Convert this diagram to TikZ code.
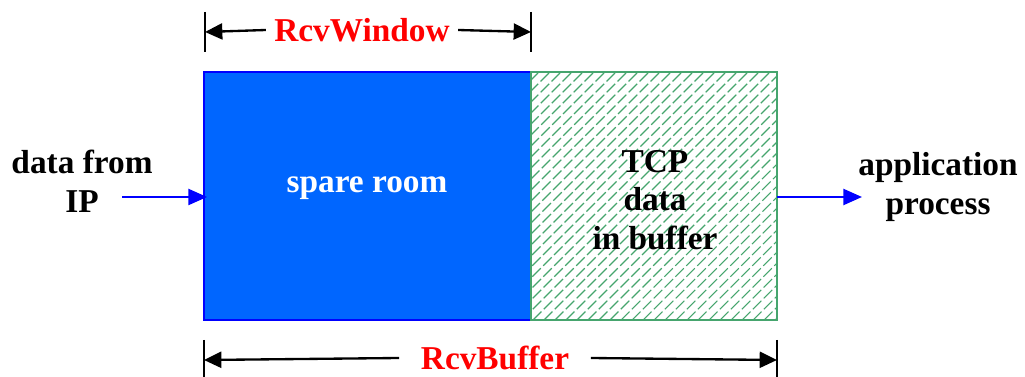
\documentclass[tikz,border=0pt]{standalone}
\usepackage{fontspec}
\setmainfont{Liberation Serif}
\usetikzlibrary{arrows.meta}
\definecolor{roomblue}{RGB}{0,102,255}
\definecolor{hatchgreen}{RGB}{70,165,110}
\tikzset{every picture/.style={line width=0.75pt}}
\tikzset{
  lbl/.style={inner sep=0.75pt,font=\fontsize{25}{29}\selectfont\bfseries,align=center},
  redlbl/.style={lbl,text=red,inner sep=6pt},
  dimline/.style={line width=1.75pt,-{Triangle[length=13pt,width=12pt]}},
  flow/.style={line width=1.75pt,blue,-{Triangle[length=14pt,width=12pt]}},
}
\begin{document}
\begin{tikzpicture}[x=0.75pt,y=0.75pt,yscale=-1,xscale=1]
	\useasboundingbox (0,0) rectangle (1025,377);
	
	%Shape: Rectangle [id:spare]
	\draw [draw=blue, fill=roomblue, line width=1.75pt] (204,72) rectangle (531,320);
	%Shape: Rectangle [id:hatch]
	\begin{scope}
		\clip (531,72) rectangle (777,320);
		\foreach \i in {280,291,...,777}
			\draw [hatchgreen, line width=0.8pt, dash pattern=on 9pt off 2.5pt] (\i,320) -- (\i+248,72);
	\end{scope}
	\draw [hatchgreen, line width=1.75pt] (531,72) rectangle (777,320);
	
	% Coordinates
	\coordinate (wl) at (205,32);
	\coordinate (wr) at (531,32);
	\coordinate (bl) at (204,360);
	\coordinate (br) at (777,360);
	\coordinate (ipend) at (122,197);
	\coordinate (roomw) at (207,197);
	\coordinate (bufe) at (777,197);
	\coordinate (append) at (862,197);
	
	%Straight Lines [id:ticks]
	\draw [line width=1.75pt] (205,12) -- (205,52);
	\draw [line width=1.75pt] (531,12) -- (531,52);
	\draw [line width=1.75pt] (204,340) -- (204,377);
	\draw [line width=1.75pt] (777,340) -- (777,377);
	
	% Text Node
	\draw (362,30) node [redlbl] (win) {RcvWindow};
	% Text Node
	\draw (495,358) node [redlbl, inner sep=16pt] (bufsize) {RcvBuffer};
	% Text Node
	\draw (367,188) node [lbl, text=white] (room) {spare room};
	% Text Node
	\draw (655,200) node [lbl] (data) {TCP\\data\\in buffer};
	% Text Node
	\draw (82,181) node [lbl] (ip) {data from\\IP};
	% Text Node
	\draw (938,187) node [lbl] (app) {application\\process};
	
	%Arrows
	\draw [dimline] (win.west) -- (wl);
	\draw [dimline] (win.east) -- (wr);
	\draw [dimline] (bufsize.west) -- (bl);
	\draw [dimline] (bufsize.east) -- (br);
	\draw [flow] (ipend) -- (roomw);
	\draw [flow] (bufe) -- (append);
	
\end{tikzpicture}
\end{document}
